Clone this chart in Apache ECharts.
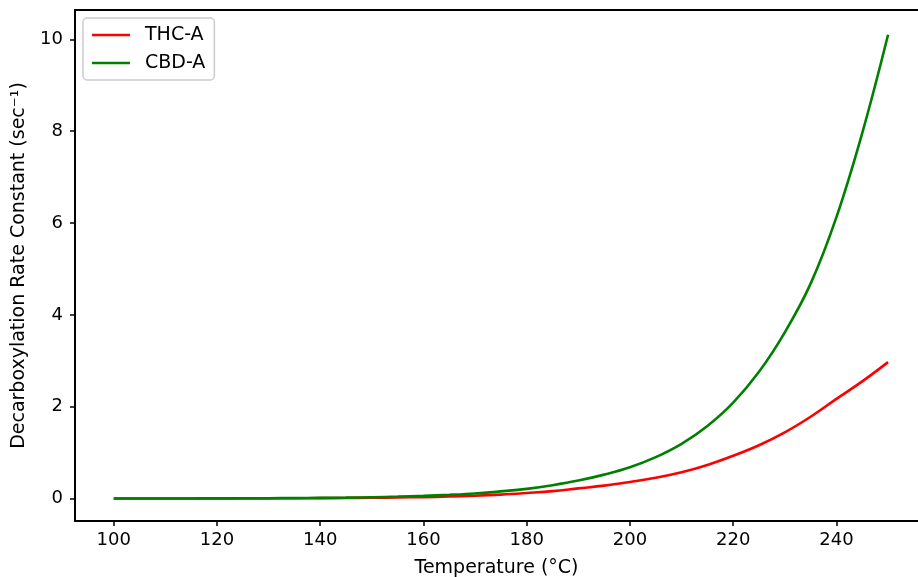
<!DOCTYPE html>
<html>
<head>
<meta charset="utf-8">
<script src="https://cdn.jsdelivr.net/npm/echarts@6/dist/echarts.min.js"></script>
<style>
  html, body { margin: 0; padding: 0; background: #fff; }
  #container { width: 918px; height: 577px; }
</style>
</head>
<body>
<div id="container"></div>
<script>
// temperatures in degrees C
const temps = [100, 105, 110, 115, 120, 125, 130, 135, 140, 145, 150, 155, 160, 165, 170,
    175, 180, 185, 190, 195, 200, 205, 210, 215, 220, 225, 230, 235, 240, 245, 250];

// rate constants (sec^-1)
const thcA = [0.0003, 0.0005, 0.0007, 0.0011, 0.0017, 0.0025, 0.0037, 0.0054, 0.0078, 0.011,
    0.016, 0.022, 0.031, 0.043, 0.06, 0.085, 0.12, 0.16, 0.22, 0.28, 0.36, 0.45, 0.57,
    0.73, 0.93, 1.16, 1.44, 1.78, 2.17, 2.55, 2.97];
const cbdA = [0.0004, 0.0006, 0.001, 0.0016, 0.0025, 0.004, 0.006, 0.009, 0.013, 0.019,
    0.028, 0.04, 0.057, 0.08, 0.11, 0.155, 0.21, 0.29, 0.39, 0.52, 0.68, 0.9, 1.19,
    1.58, 2.09, 2.76, 3.62, 4.68, 6.13, 7.96, 10.1];

const xTicks = [100, 120, 140, 160, 180, 200, 220, 240];
const yTicks = [0, 2, 4, 6, 8, 10];

function pairs(ys) {
    return temps.map(function (t, i) { return [t, ys[i]]; });
}

function draw_chart() {
    let dom = document.getElementById("container");
    let myChart = echarts.init(dom, null, {renderer: 'canvas'});

    const font = 'DejaVu Sans';
    let spine = {show: true, onZero: false, lineStyle: {color: '#000', width: 2}};
    let ticks = {show: true, length: 5, lineStyle: {color: '#000', width: 1.5}};
    let labels = {color: '#000', fontFamily: font, fontSize: 18, margin: 10};
    let nameStyle = {color: '#000', fontFamily: font, fontSize: 19};

    let option = {
        animation: false,
        backgroundColor: '#fff',
        grid: {
            left: 75,
            right: 0,
            top: 10,
            bottom: 56,
            outerBoundsMode: 'none',
            containLabel: false
        },
        legend: {
            left: 83,
            top: 18,
            orient: 'vertical',
            padding: [7, 9, 7, 9],
            icon: 'rect',
            itemWidth: 38,
            itemHeight: 2.6,
            itemGap: 8,
            borderColor: '#cccccc',
            borderWidth: 1.5,
            borderRadius: 4,
            backgroundColor: 'rgba(255,255,255,0.8)',
            textStyle: {
                color: '#000',
                fontFamily: font,
                fontSize: 19,
                lineHeight: 20,
                padding: [0, 0, 0, 10]
            },
            data: ['THC-A', 'CBD-A']
        },
        xAxis: [
            {
                type: 'value',
                min: 92.5,
                max: 255.8,
                name: 'Temperature (°C)',
                nameLocation: 'middle',
                nameGap: 38,
                nameTextStyle: nameStyle,
                axisLine: spine,
                axisTick: Object.assign({}, ticks, {customValues: xTicks}),
                axisLabel: Object.assign({}, labels, {customValues: xTicks}),
                splitLine: {show: false}
            },
            {
                // top spine only
                type: 'value',
                position: 'top',
                min: 92.5,
                max: 255.8,
                axisLine: spine,
                axisTick: {show: false},
                axisLabel: {show: false},
                splitLine: {show: false}
            }
        ],
        yAxis: {
            type: 'value',
            min: -0.49,
            max: 10.64,
            name: 'Decarboxylation Rate Constant (sec⁻¹)',
            nameLocation: 'middle',
            nameGap: 46,
            nameTextStyle: nameStyle,
            axisLine: spine,
            axisTick: Object.assign({}, ticks, {customValues: yTicks}),
            axisLabel: Object.assign({}, labels, {customValues: yTicks, margin: 12}),
            splitLine: {show: false}
        },
        series: [
            {
                name: 'THC-A',
                type: 'line',
                data: pairs(thcA),
                showSymbol: false,
                symbol: 'none',
                smooth: 0.4,
                color: '#ff0000',
                lineStyle: {color: '#ff0000', width: 2.6}
            },
            {
                name: 'CBD-A',
                type: 'line',
                data: pairs(cbdA),
                showSymbol: false,
                symbol: 'none',
                smooth: 0.4,
                color: '#008000',
                lineStyle: {color: '#008000', width: 2.6}
            }
        ]
    };

    myChart.setOption(option, true);
}

draw_chart();
</script>
</body>
</html>
